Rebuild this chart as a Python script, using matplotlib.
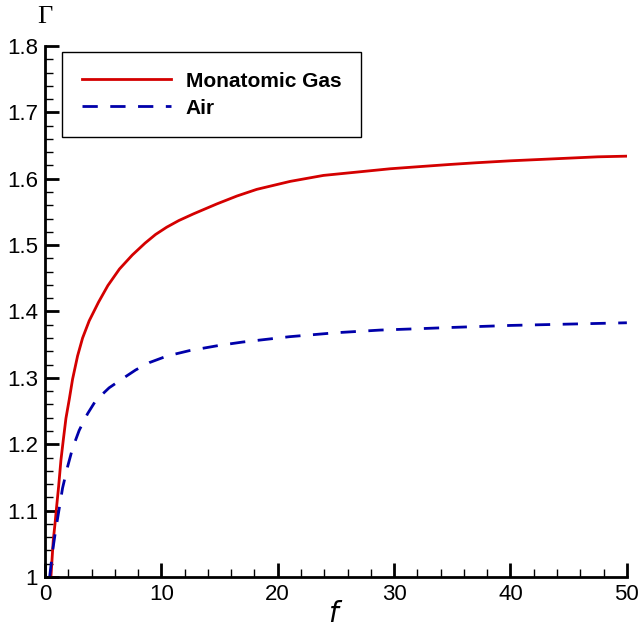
import matplotlib
matplotlib.use("Agg")
import matplotlib.pyplot as plt
from matplotlib.ticker import MultipleLocator, FuncFormatter

# data
f_mono = [0.51, 0.6, 0.71, 0.86, 1.0, 1.17, 1.37, 1.57, 1.8, 2.09, 2.37, 2.8,
          3.23, 3.8, 4.6, 5.4, 6.4, 7.5, 8.6, 9.5, 10.46, 11.5, 12.75, 14.76, 16.5, 18.2,
          21.07, 23.93, 26.8, 29.66, 32.0, 34.8, 37.0, 40.0, 42.5, 45.0, 47.5, 50.0]
g_mono = [1.0, 1.025, 1.055, 1.080, 1.106, 1.136, 1.176, 1.206, 1.239, 1.268, 1.298, 1.333,
          1.360, 1.386, 1.414, 1.439, 1.464, 1.485, 1.503, 1.516, 1.527, 1.537, 1.547, 1.562,
          1.574, 1.584, 1.596, 1.605, 1.610, 1.615, 1.618, 1.6215, 1.624, 1.627, 1.629, 1.631,
          1.633, 1.634]

f_air = [0.4, 0.66, 0.94, 1.23, 1.51, 1.94, 2.37, 2.94, 3.66, 4.37, 5.51, 6.94,
         7.8, 8.97, 10.5, 12.4, 15.0, 17.0, 21.0, 25.0, 28.8, 32.0, 35.0, 40.0, 45.0, 50.0]
g_air = [1.0, 1.04, 1.073, 1.104, 1.134, 1.166, 1.194, 1.221, 1.246, 1.266, 1.285, 1.302,
         1.312, 1.323, 1.333, 1.341, 1.349, 1.354, 1.362, 1.368, 1.372, 1.374, 1.376, 1.379,
         1.381, 1.383]

labels = ["Monatomic Gas", "Air"]

plt.rcParams['font.family'] = ['Liberation Sans', 'DejaVu Sans']

fig = plt.figure(figsize=(6.39, 6.28), dpi=100)
ax = fig.add_axes([0.0704, 0.0812, 0.9106, 0.8456])

ax.plot(f_mono, g_mono, color='#d40000', lw=2.0, label=labels[0])
ax.plot(f_air, g_air, color='#0000aa', lw=2.0, dashes=(5.5, 4.5), label=labels[1])

ax.set_xlim(0, 50)
ax.set_ylim(1, 1.8)

for s in ['top', 'right']:
    ax.spines[s].set_visible(False)
for s in ['left', 'bottom']:
    ax.spines[s].set_linewidth(2.0)

ax.xaxis.set_major_locator(MultipleLocator(10))
ax.xaxis.set_minor_locator(MultipleLocator(2))
ax.yaxis.set_major_locator(MultipleLocator(0.1))
ax.yaxis.set_minor_locator(MultipleLocator(0.02))
ax.yaxis.set_major_formatter(FuncFormatter(lambda v, p: '%g' % round(v, 2)))

ax.tick_params(which='major', direction='in', length=10, width=2.0, labelsize=16, pad=5)
ax.tick_params(which='minor', direction='in', length=6, width=1.0)

ax.set_xlabel('$f$', family='Liberation Serif', fontsize=20, labelpad=-2)
ax.text(0, 1.055, 'Γ', transform=ax.transAxes, ha='center', va='center',
        family='Liberation Serif', fontsize=19)

leg = ax.legend(loc='upper left', bbox_to_anchor=(0.029, 0.989), borderaxespad=0,
                fancybox=False, edgecolor='black', framealpha=1, handlelength=4.3,
                handletextpad=0.7, borderpad=0.95, labelspacing=0.38,
                prop={'weight': 'bold', 'size': 15})
leg.get_frame().set_linewidth(1.0)

fig.savefig('out.png', dpi=100)
